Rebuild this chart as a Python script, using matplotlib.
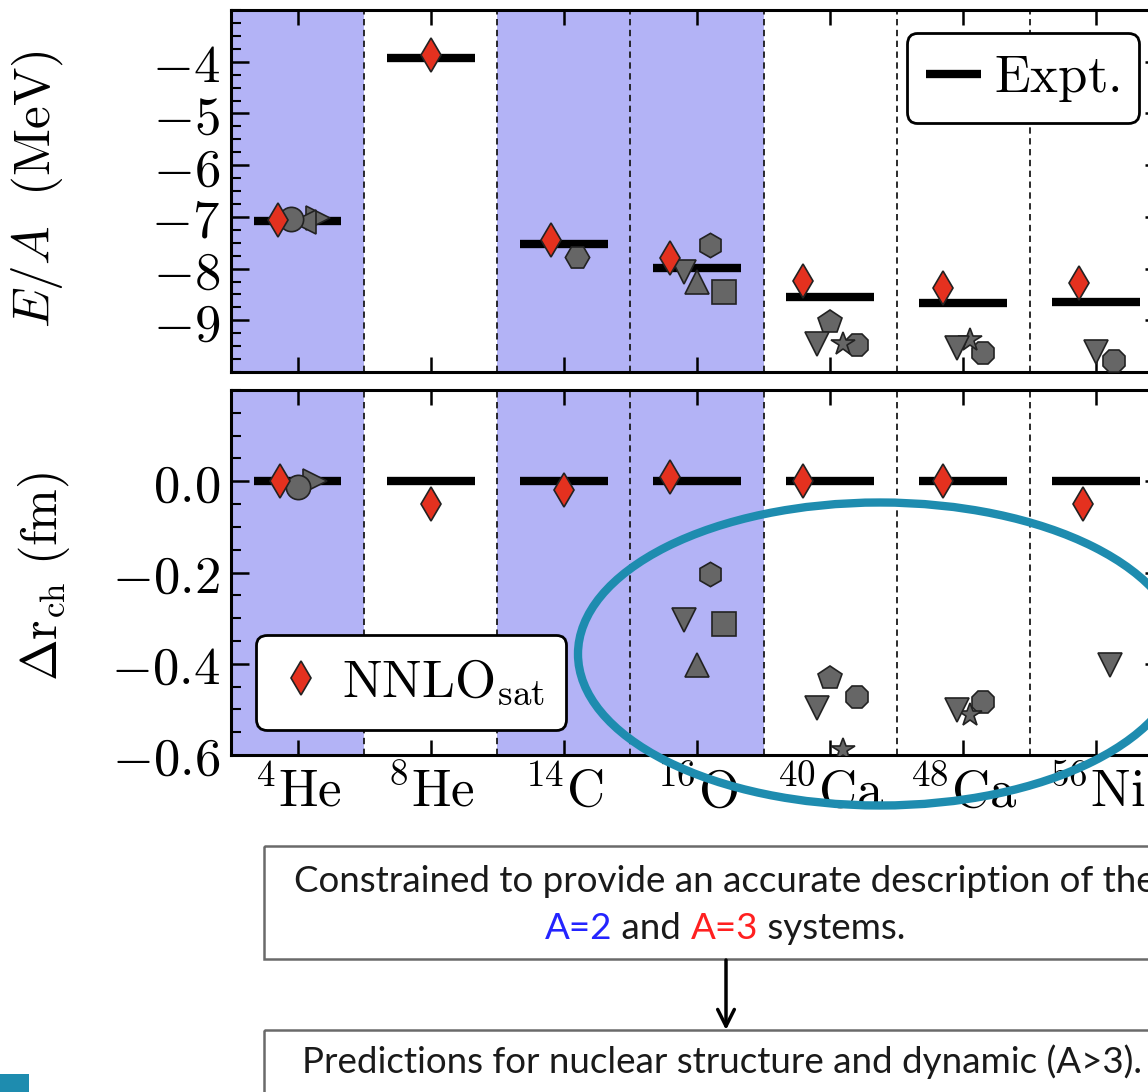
import numpy as np
import matplotlib
matplotlib.use("Agg")
import matplotlib.pyplot as plt
from matplotlib.ticker import MultipleLocator
from matplotlib.patches import Ellipse, Rectangle

plt.rcParams['mathtext.fontset'] = 'cm'
plt.rcParams['font.family'] = 'serif'

nan = np.nan

# nuclei on the x axis, and which of them were used in the fit (shaded)
nuclei = [r'${}^{4}\mathrm{He}$', r'${}^{8}\mathrm{He}$', r'${}^{14}\mathrm{C}$',
          r'${}^{16}\mathrm{O}$', r'${}^{40}\mathrm{Ca}$', r'${}^{48}\mathrm{Ca}$',
          r'${}^{56}\mathrm{Ni}$']
fit_nuclei = [True, False, True, True, False, False, False]

# binding energy per nucleon (MeV)
expt_ea = [-7.07, -3.93, -7.52, -7.98, -8.55, -8.67, -8.64]
nnlo_ea = [-7.06, -3.87, -7.44, -7.79, -8.23, -8.38, -8.27]
# charge radius relative to experiment (fm)
expt_dr = [0.0, 0.0, 0.0, 0.0, 0.0, 0.0, 0.0]
nnlo_dr = [0.0, -0.05, -0.02, 0.01, 0.0, 0.0, -0.05]

# other interactions (gray symbols)
ea_circle = [-7.05, nan, nan, nan, nan, nan, nan]
dr_circle = [-0.013, nan, nan, nan, nan, nan, nan]
ea_tri_left = [-7.10, nan, nan, nan, nan, nan, nan]
dr_tri_left = [nan, nan, nan, nan, nan, nan, nan]
ea_tri_right = [-7.03, nan, nan, nan, nan, nan, nan]
dr_tri_right = [0.0, nan, nan, nan, nan, nan, nan]
ea_tri_down = [nan, nan, nan, -8.07, -9.46, -9.53, -9.62]
dr_tri_down = [nan, nan, nan, -0.303, -0.497, -0.502, -0.403]
ea_tri_up = [nan, nan, nan, -8.26, nan, nan, nan]
dr_tri_up = [nan, nan, nan, -0.403, nan, nan, nan]
ea_pentagon = [nan, nan, nan, nan, -9.04, nan, nan]
dr_pentagon = [nan, nan, nan, nan, -0.431, nan, nan]
ea_hexagon = [nan, nan, nan, -7.55, nan, nan, nan]
dr_hexagon = [nan, nan, nan, -0.204, nan, nan, nan]
ea_hexagon2 = [nan, nan, -7.78, nan, nan, nan, nan]
dr_hexagon2 = [nan, nan, nan, nan, nan, nan, nan]
ea_star = [nan, nan, nan, nan, -9.45, -9.39, nan]
dr_star = [nan, nan, nan, nan, -0.589, -0.513, nan]
ea_square = [nan, nan, nan, -8.46, nan, nan, nan]
dr_square = [nan, nan, nan, -0.312, nan, nan, nan]
ea_octagon = [nan, nan, nan, nan, -9.48, -9.64, -9.79]
dr_octagon = [nan, nan, nan, nan, -0.473, -0.484, nan]

ea_ticks = [-9, -8, -7, -6, -5, -4]
dr_ticks = [-0.6, -0.4, -0.2, 0.0]

RED = '#e4311f'
GRAY = '#666666'
SHADE = '#b3b3f6'
TEAL = '#1e8caf'

series = [
    ('d', RED, nnlo_ea, nnlo_dr),
    ('o', GRAY, ea_circle, dr_circle),
    ('<', GRAY, ea_tri_left, dr_tri_left),
    ('>', GRAY, ea_tri_right, dr_tri_right),
    ('v', GRAY, ea_tri_down, dr_tri_down),
    ('^', GRAY, ea_tri_up, dr_tri_up),
    ('p', GRAY, ea_pentagon, dr_pentagon),
    ('h', GRAY, ea_hexagon, dr_hexagon),
    ('H', GRAY, ea_hexagon2, dr_hexagon2),
    ('*', GRAY, ea_star, dr_star),
    ('s', GRAY, ea_square, dr_square),
    ('8', GRAY, ea_octagon, dr_octagon),
]


def draw_panel(ax, expt, col, ticks, minor, ylim):
    n = len(nuclei)
    xs = np.arange(n)
    for i in xs:
        if fit_nuclei[i]:
            ax.axvspan(i - 0.5, i + 0.5, color=SHADE, lw=0, zorder=0)
    for x in xs[:-1] + 0.5:
        ax.axvline(x, color='#1a1a1a', lw=1.3, ls=(0, (3.5, 2.5)), zorder=1)
    expt_lines = ax.hlines(expt, xs - 0.33, xs + 0.33, color='k', lw=6,
                           zorder=2, label=r'$\mathrm{Expt.}$')

    # spread the symbols of each nucleus around its tick
    vals = np.array([s[col] for s in series], dtype=float)
    xpos = np.full(vals.shape, nan)
    for i in xs:
        idx = np.where(~np.isnan(vals[:, i]))[0]
        k = len(idx)
        step = max(0.4 / k, 0.1)
        offs = (np.arange(k) - (k - 1) / 2) * step
        xpos[idx, i] = i + offs

    handles = []
    for j, (marker, color, _, _) in enumerate(reversed(series)):
        jj = len(series) - 1 - j
        h, = ax.plot(xpos[jj], vals[jj], ls='none', marker=marker, ms=17.5,
                     mfc=color, mec='#222222', mew=1.2,
                     zorder=4 if color == RED else 3)
        handles.append(h)

    ax.set_xlim(-0.5, n - 0.5)
    ax.set_ylim(*ylim)
    ax.set_xticks(xs)
    ax.set_yticks(ticks, labels=[f'${t:g}$' if isinstance(t, int) else f'${t:.1f}$'
                                 for t in ticks])
    ax.yaxis.set_minor_locator(MultipleLocator(minor))
    ax.tick_params(which='both', direction='in', top=True, right=True)
    ax.tick_params(which='major', length=13, width=1.8, labelsize=38, pad=8)
    ax.tick_params(which='minor', length=7, width=1.5)
    ax.tick_params(axis='x', which='major', length=11)
    for sp in ax.spines.values():
        sp.set_linewidth(2.2)
    return expt_lines, handles[-1]


fig = plt.figure(figsize=(11.48, 10.92), dpi=100)
ax1 = fig.add_axes([0.2012, 0.6593, 0.8118, 0.3315])
ax2 = fig.add_axes([0.2012, 0.3086, 0.8118, 0.3342])

expt_lines, _ = draw_panel(ax1, expt_ea, 2, ea_ticks, 0.25, (-10.0, -3.0))
_, nnlo_pts = draw_panel(ax2, expt_dr, 3, dr_ticks, 0.05, (-0.6, 0.2))

ax1.tick_params(labelbottom=False)
ax2.set_xticklabels(nuclei)

ax1.set_ylabel(r'$E/A\ \ \mathrm{(MeV)}$', fontsize=37)
ax2.set_ylabel(r'$\Delta\mathrm{r}_{\mathrm{ch}}\ \mathrm{(fm)}$', fontsize=36)
ax1.yaxis.set_label_coords(-0.178, 0.505)
ax2.yaxis.set_label_coords(-0.171, 0.49)

leg1 = ax1.legend(handles=[expt_lines], loc='upper right',
                  bbox_to_anchor=(1139 / 1148, 1 - 33 / 1092),
                  bbox_transform=fig.transFigure, borderaxespad=0,
                  fontsize=38, handlelength=1.05, handletextpad=0.25,
                  borderpad=0.36, fancybox=True, framealpha=1, edgecolor='k')
leg1.get_frame().set_linewidth(2)

nnlo_pts.set_label(r'$\mathrm{NNLO}_{\mathrm{sat}}$')
leg2 = ax2.legend(handles=[nnlo_pts], loc='lower left', numpoints=1,
                  bbox_to_anchor=(256 / 1148, 1 - 730 / 1092),
                  bbox_transform=fig.transFigure, borderaxespad=0,
                  fontsize=38, handlelength=0.85, handletextpad=0.35,
                  borderpad=0.42, fancybox=True, framealpha=1, edgecolor='k')
leg2.get_frame().set_linewidth(2)

# slide annotations drawn in pixel coordinates on top of the chart
ov = fig.add_axes([0, 0, 1, 1], facecolor='none')
ov.set_xlim(0, 1148)
ov.set_ylim(1092, 0)
ov.axis('off')

ov.add_patch(Ellipse((880, 654), 604, 303, fill=False, edgecolor=TEAL, lw=6))
ov.add_patch(Rectangle((0, 1074), 29, 30, color=TEAL, lw=0))
ov.add_patch(Rectangle((264, 846), 922, 113, fill=False, edgecolor='#6a6a6a', lw=1.8))
ov.add_patch(Rectangle((264, 1030), 922, 100, fill=False, edgecolor='#6a6a6a', lw=1.8))
ov.annotate('', xy=(726, 1030), xytext=(726, 960),
            arrowprops=dict(arrowstyle='->', lw=2.5, color='k',
                            mutation_scale=30, shrinkA=0, shrinkB=0))

body = dict(family='Lato', fontsize=26.5, va='baseline')
ov.text(725, 892, 'Constrained to provide an accurate description of the',
        ha='center', color='#1a1a1a', **body)
ov.text(722, 1073, 'Predictions for nuclear structure and dynamic (A>3).',
        ha='center', color='#1a1a1a', **body)

# second line of the first box mixes colours, so lay the pieces out in a row
renderer = fig.canvas.get_renderer()
pieces = [('A=2', '#2424ff'), (' and ', '#1a1a1a'), ('A=3', '#ff2020'),
          (' systems.', '#1a1a1a')]
texts = [ov.text(0, 939, s, color=c, ha='left', **body) for s, c in pieces]
widths = [t.get_window_extent(renderer).width for t in texts]
x = 725 - sum(widths) / 2
for t, w in zip(texts, widths):
    t.set_x(x)
    x += w

fig.savefig('out.png', dpi=100)
